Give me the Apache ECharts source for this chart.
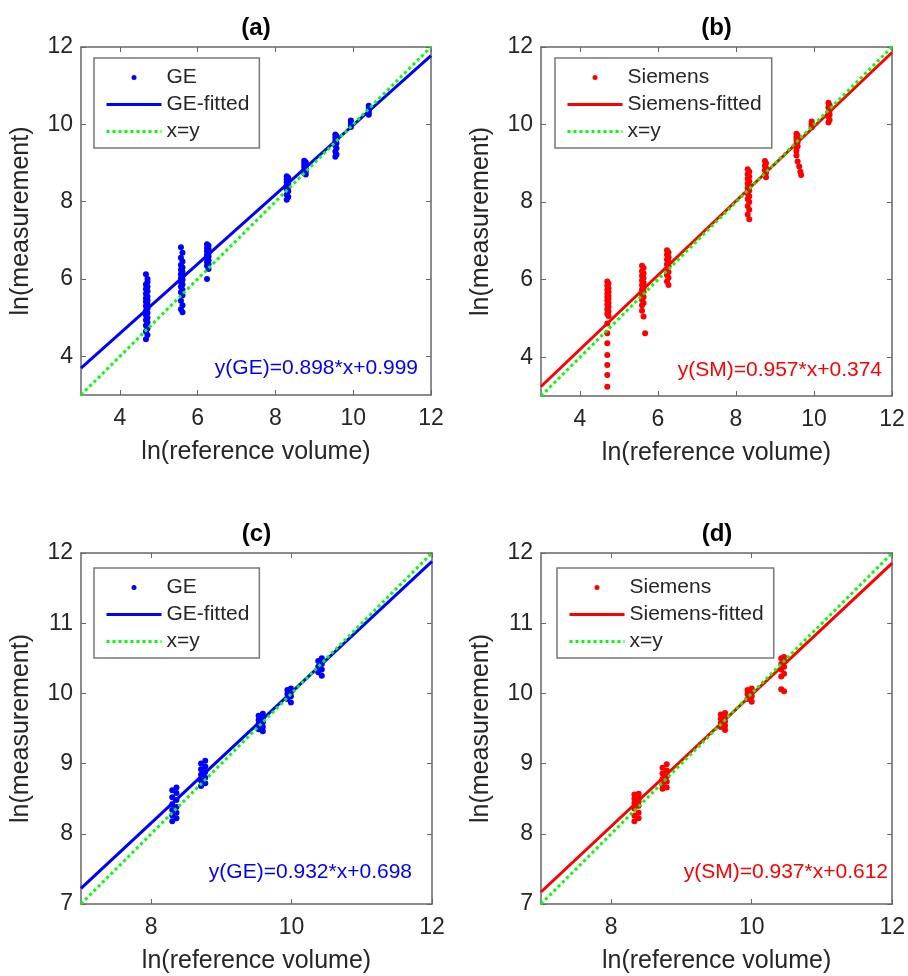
<!DOCTYPE html>
<html>
<head>
<meta charset="utf-8">
<title>ln(measurement) vs ln(reference volume)</title>
<script src="https://cdn.jsdelivr.net/npm/echarts@6/dist/echarts.min.js"></script>
<style>
html, body { margin: 0; padding: 0; background: #fff; }
#main { width: 908px; height: 976px; }
</style>
</head>
<body>
<div id="main"></div>
<script>
// dots per column: [x, [y, y, ...]]
var geA = [
  [4.67, [6.12, 5.86, 5.74, 5.62, 5.50, 5.41, 5.30, 5.18, 5.06, 4.94, 4.80, 4.64, 4.44]],
  [4.71, [6.00, 5.92, 5.80, 5.68, 5.55, 5.45, 5.35, 5.24, 5.12, 5.00, 4.88, 4.72, 4.55]],
  [5.57, [6.82, 6.55, 6.36, 6.24, 6.12, 6.02, 5.92, 5.80, 5.66, 5.44, 5.22]],
  [5.61, [6.68, 6.45, 6.30, 6.18, 6.08, 5.98, 5.86, 5.72, 5.58, 5.32, 5.14]],
  [6.24, [6.90, 6.80, 6.72, 6.62, 6.54, 6.44, 6.34, 6.00]],
  [6.28, [6.86, 6.76, 6.67, 6.58, 6.48, 6.38, 6.26]],
  [8.29, [8.66, 8.58, 8.50, 8.42, 8.32, 8.18, 8.05]],
  [8.33, [8.62, 8.55, 8.46, 8.37, 8.27, 8.12]],
  [8.74, [9.06, 8.98, 8.90, 8.82, 8.74]],
  [8.78, [9.02, 8.94, 8.86, 8.78, 8.70]],
  [9.54, [9.74, 9.66, 9.58, 9.46, 9.30, 9.16]],
  [9.57, [9.70, 9.62, 9.52, 9.38, 9.22]],
  [9.94, [10.10, 10.04, 9.98, 9.93]],
  [10.40, [10.48, 10.42, 10.36, 10.30, 10.25]]
];
var smB = [
  [4.70, [5.95, 5.84, 5.74, 5.64, 5.55, 5.46, 5.36, 5.24, 5.12, 4.87, 4.62, 4.36, 4.06, 3.80, 3.54, 3.24]],
  [4.73, [5.90, 5.78, 5.68, 5.58, 5.50, 5.40, 5.30, 5.18, 5.06]],
  [5.59, [6.36, 6.22, 6.10, 5.98, 5.86, 5.74, 5.62, 5.48, 5.34, 5.20]],
  [5.63, [6.30, 6.16, 6.04, 5.92, 5.80, 5.68, 5.55, 5.40, 5.05]],
  [5.67, [4.62]],
  [6.23, [6.76, 6.64, 6.52, 6.40, 6.28, 6.12, 5.95]],
  [6.27, [6.70, 6.58, 6.46, 6.34, 6.20, 6.05, 5.86]],
  [8.30, [8.85, 8.72, 8.60, 8.48, 8.36, 8.22, 8.08, 7.90, 7.68]],
  [8.34, [8.78, 8.66, 8.54, 8.42, 8.30, 8.15, 8.00, 7.80, 7.56]],
  [8.74, [9.06, 8.94, 8.82, 8.70]],
  [8.77, [9.00, 8.88, 8.76, 8.64]],
  [9.55, [9.76, 9.68, 9.60, 9.50, 9.40, 9.32, 9.20]],
  [9.58, [9.72, 9.64, 9.55, 9.44, 9.05]],
  [9.62, [8.92]],
  [9.65, [8.78]],
  [9.67, [8.70]],
  [9.94, [10.08, 10.02, 9.97, 9.93]],
  [10.37, [10.56, 10.44, 10.32, 10.20, 10.05]],
  [10.40, [10.50, 10.38, 10.26, 10.12]]
];
var geC = [
  [8.30, [8.62, 8.52, 8.42, 8.34, 8.26, 8.18]],
  [8.36, [8.66, 8.58, 8.48, 8.38, 8.30, 8.22]],
  [8.71, [9.00, 8.92, 8.84, 8.76, 8.68]],
  [8.77, [9.04, 8.96, 8.88, 8.80, 8.72]],
  [9.53, [9.68, 9.62, 9.56, 9.49]],
  [9.59, [9.71, 9.65, 9.59, 9.52, 9.46]],
  [9.94, [10.05, 9.99, 9.92]],
  [9.99, [10.07, 10.02, 9.96, 9.87]],
  [10.38, [10.46, 10.38, 10.30]],
  [10.43, [10.50, 10.42, 10.34, 10.25]]
];
var smD = [
  [8.33, [8.56, 8.50, 8.44, 8.36, 8.26, 8.18]],
  [8.39, [8.57, 8.52, 8.46, 8.40, 8.30, 8.22]],
  [8.73, [8.94, 8.86, 8.78, 8.70, 8.64]],
  [8.79, [8.99, 8.90, 8.82, 8.74, 8.66]],
  [9.56, [9.70, 9.64, 9.58, 9.52]],
  [9.62, [9.72, 9.66, 9.60, 9.54, 9.48]],
  [9.94, [10.05, 9.99, 9.92]],
  [10.00, [10.07, 10.02, 9.96, 9.88]],
  [10.42, [10.50, 10.42, 10.34, 10.24, 10.06]],
  [10.46, [10.52, 10.46, 10.38, 10.28, 10.03]]
];

// fitted lines [slope, intercept]
var fitA = [0.898, 0.999];
var fitB = [0.957, 0.374];
var fitC = [0.932, 0.698];
var fitD = [0.937, 0.612];

var panelTitles = ['(a)', '(b)', '(c)', '(d)'];
var eqTexts = ['y(GE)=0.898*x+0.999', 'y(SM)=0.957*x+0.374', 'y(GE)=0.932*x+0.698', 'y(SM)=0.937*x+0.612'];
var rangeAB = [3, 12];
var rangeCD = [7, 12];
var ticksAB = [4, 6, 8, 10, 12];
var ticksXCD = [8, 10, 12];
var ticksYCD = [7, 8, 9, 10, 11, 12];

var FONT = '"Liberation Sans", Arial, sans-serif';
var BLUE = '#0000ff', RED = '#ff0000', GREEN = '#00ff00';
var AXIS = '#666666', TXT = '#262626';

var panels = [
  { data: geA, fit: fitA, name: 'GE', color: BLUE, range: rangeAB, xt: ticksAB, yt: ticksAB,
    grid: { left: 81, top: 47, width: 350, height: 348 }, legend: [94, 58], eq: [418, 368] },
  { data: smB, fit: fitB, name: 'Siemens', color: RED, range: rangeAB, xt: ticksAB, yt: ticksAB,
    grid: { left: 541, top: 47, width: 351, height: 349 }, legend: [555, 58], eq: [882, 370] },
  { data: geC, fit: fitC, name: 'GE', color: BLUE, range: rangeCD, xt: ticksXCD, yt: ticksYCD,
    grid: { left: 81, top: 553, width: 351, height: 351 }, legend: [94, 568], eq: [412, 872] },
  { data: smD, fit: fitD, name: 'Siemens', color: RED, range: rangeCD, xt: ticksXCD, yt: ticksYCD,
    grid: { left: 541, top: 553, width: 352, height: 351 }, legend: [557, 568], eq: [888, 872] }
];

function flatten(cols) {
  var pts = [];
  cols.forEach(function (c) {
    c[1].forEach(function (y) { pts.push([c[0], y]); });
  });
  return pts;
}

// legend entry for a line: hide the little symbol drawn in the middle
function lineEntry(name) {
  return { name: name, itemStyle: { color: 'transparent', borderWidth: 0 } };
}

var option = {
  animation: false,
  backgroundColor: '#fff',
  title: [], grid: [], xAxis: [], yAxis: [], legend: [], series: [], graphic: []
};

panels.forEach(function (p, i) {
  var lo = p.range[0], hi = p.range[1];
  var cx = p.grid.left + p.grid.width / 2;

  option.title.push({
    text: panelTitles[i], left: cx, top: p.grid.top - 31, textAlign: 'center', padding: 0,
    textStyle: { fontFamily: FONT, fontSize: 24, fontWeight: 'bold', color: '#000' }
  });
  option.grid.push(p.grid);

  // bottom + top x axes, left + right y axes (box with inner ticks)
  option.xAxis.push({
    gridIndex: i, type: 'value', min: lo, max: hi, position: 'bottom',
    axisLine: { show: true, lineStyle: { color: AXIS, width: 1.5 } },
    axisTick: { show: true, inside: true, length: 5, customValues: p.xt, lineStyle: { color: AXIS } },
    axisLabel: { customValues: p.xt, fontFamily: FONT, fontSize: 23, color: TXT, margin: 12 },
    splitLine: { show: false },
    name: 'ln(reference volume)', nameLocation: 'middle', nameGap: 45,
    nameTextStyle: { fontFamily: FONT, fontSize: 25, color: TXT }
  }, {
    gridIndex: i, type: 'value', min: lo, max: hi, position: 'top',
    axisLine: { show: true, lineStyle: { color: AXIS, width: 1.5 } },
    axisTick: { show: true, inside: true, length: 5, customValues: p.xt, lineStyle: { color: AXIS } },
    axisLabel: { show: false }, splitLine: { show: false }
  });
  option.yAxis.push({
    gridIndex: i, type: 'value', min: lo, max: hi, position: 'left',
    axisLine: { show: true, lineStyle: { color: AXIS, width: 1.5 } },
    axisTick: { show: true, inside: true, length: 5, customValues: p.yt, lineStyle: { color: AXIS } },
    axisLabel: { customValues: p.yt, fontFamily: FONT, fontSize: 23, color: TXT, margin: 8 },
    splitLine: { show: false },
    name: 'ln(measurement)', nameLocation: 'middle', nameGap: 47,
    nameTextStyle: { fontFamily: FONT, fontSize: 25, color: TXT }
  }, {
    gridIndex: i, type: 'value', min: lo, max: hi, position: 'right',
    axisLine: { show: true, lineStyle: { color: AXIS, width: 1.5 } },
    axisTick: { show: true, inside: true, length: 5, customValues: p.yt, lineStyle: { color: AXIS } },
    axisLabel: { show: false }, splitLine: { show: false }
  });

  option.series.push({
    name: p.name, type: 'scatter', xAxisIndex: i * 2, yAxisIndex: i * 2,
    symbolSize: 6, itemStyle: { color: p.color, opacity: 1 },
    data: flatten(p.data)
  }, {
    name: p.name + '-fitted', type: 'line', xAxisIndex: i * 2, yAxisIndex: i * 2,
    symbol: 'none', itemStyle: { color: p.color },
    lineStyle: { color: p.color, width: 3 },
    data: [[lo, p.fit[0] * lo + p.fit[1]], [hi, p.fit[0] * hi + p.fit[1]]]
  }, {
    name: 'x=y', type: 'line', xAxisIndex: i * 2, yAxisIndex: i * 2,
    symbol: 'none', itemStyle: { color: GREEN },
    lineStyle: { color: GREEN, width: 3, type: 'dotted' },
    data: [[lo, lo], [hi, hi]]
  });

  option.legend.push({
    orient: 'vertical', left: p.legend[0], top: p.legend[1],
    data: [p.name, lineEntry(p.name + '-fitted'), lineEntry('x=y')],
    itemWidth: 55, itemHeight: 5, itemGap: 6,
    padding: [9, 10, 6, 11],
    lineStyle: { width: 3 },
    borderColor: '#777', borderWidth: 1.5, borderRadius: 0, backgroundColor: '#fff',
    selectedMode: false,
    textStyle: { fontFamily: FONT, fontSize: 21, color: TXT, lineHeight: 21 }
  });

  option.graphic.push({
    type: 'text', x: p.eq[0], y: p.eq[1], z: 100,
    style: {
      text: eqTexts[i], fill: p.color, font: '21px ' + FONT,
      textAlign: 'right', textVerticalAlign: 'middle'
    }
  });
});

var chart = echarts.init(document.getElementById('main'), null, { renderer: 'canvas' });
chart.setOption(option);
</script>
</body>
</html>
